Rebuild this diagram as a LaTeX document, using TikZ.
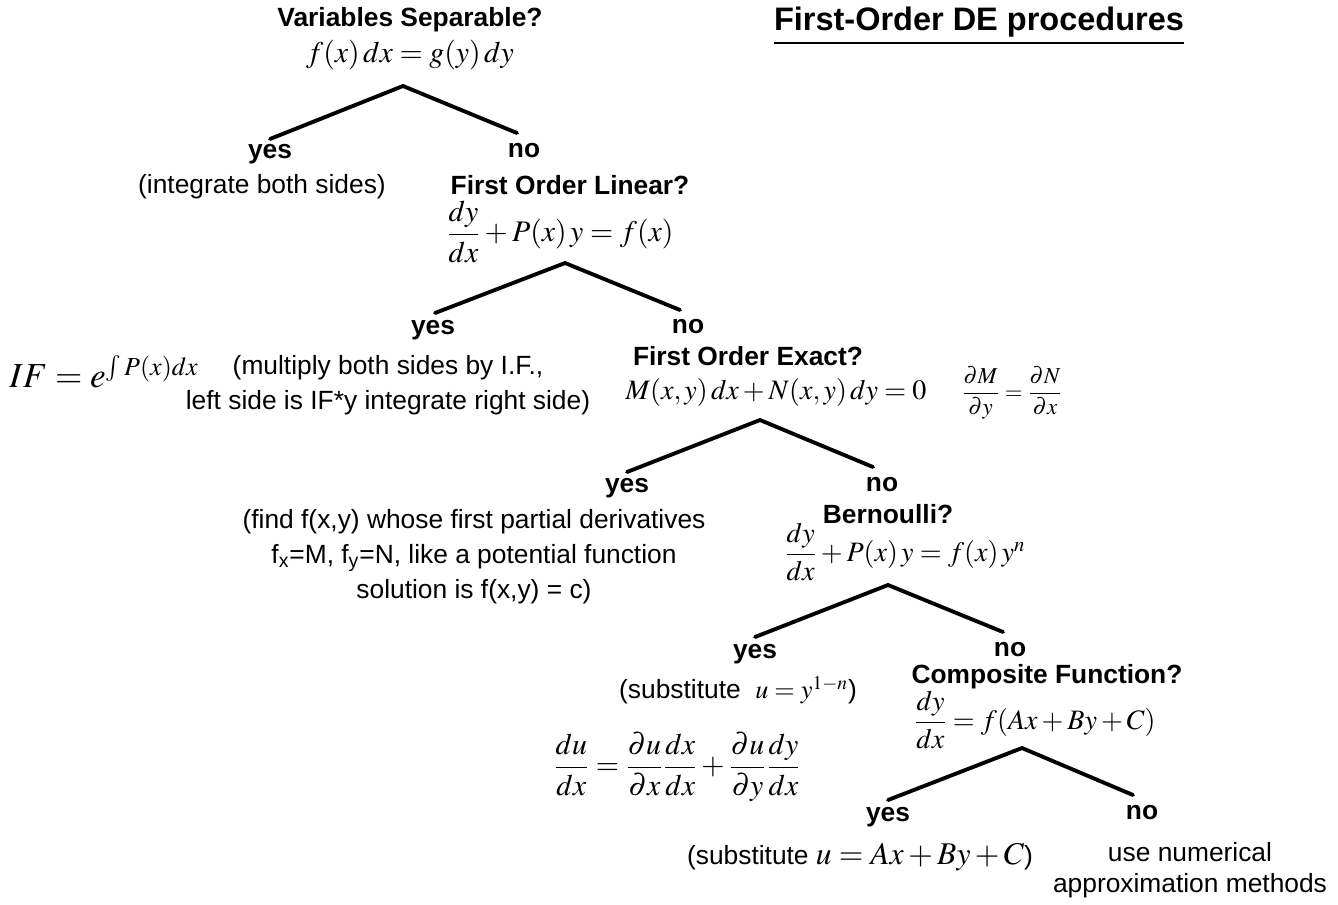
\documentclass[tikz,border=0pt]{standalone}
\usepackage{amsmath}
\usepackage{mathptmx}
\usepackage{fontspec}
\setmainfont{Liberation Sans}
\usetikzlibrary{positioning}

\begin{document}
\begin{tikzpicture}[x=0.02cm,y=-0.02cm,
  ask/.style={font=\bfseries\fontsize{15}{18}\selectfont,inner sep=0pt},
  txt/.style={font=\fontsize{15}{20}\selectfont,align=center,inner sep=0pt},
  eqn/.style={font=\fontsize{16}{19}\selectfont,inner sep=0pt},
  branch/.style={line width=2.2pt,line cap=round,line join=round}]
  \useasboundingbox (0,0) rectangle (1338,904);
  % title
  \node[ask,font=\bfseries\fontsize{18.5}{20}\selectfont] (title) at (979,22) {First-Order DE procedures};
  \draw[line width=1.4pt] ([yshift=-3pt]title.south west) -- ([yshift=-3pt]title.south east);
  % separable
  \node[ask] (sep) at (410,20) {Variables Separable?};
  \node[eqn,font=\fontsize{17}{19}\selectfont] (sepeq) at (410,55) {$f(x)\,dx=g(y)\,dy$};
  \coordinate (t1) at (403,86);
  \coordinate (t1y) at (270,139);
  \coordinate (t1n) at (517,133);
  \draw[branch] (t1y) -- (t1) -- (t1n);
  \node[ask] (y1) at (270,154) {yes};
  \node[ask] (n1) at (524,151) {no};
  \node[txt] (a1) at (262,187) {(integrate both sides)};
  % linear
  \node[ask] (lin) at (570,185) {First Order Linear?};
  \node[eqn,font=\fontsize{17}{19}\selectfont] (lineq) at (560,232) {$\dfrac{dy}{dx}+P(x)\,y=f(x)$};
  \coordinate (t2) at (565,263);
  \coordinate (t2y) at (435,313);
  \coordinate (t2n) at (680,310);
  \draw[branch] (t2y) -- (t2) -- (t2n);
  \node[ask] (y2) at (433,330) {yes};
  \node[ask] (n2) at (688,327) {no};
  \node[txt] (a2) at (388,385) {(multiply both sides by I.F.,\\left side is IF*y integrate right side)};
  \node[font=\fontsize{20}{22}\selectfont,inner sep=0pt] (ifeq) at (104,372) {$IF=e^{\int P(x)dx}$};
  % exact
  \node[ask] (exa) at (748,356) {First Order Exact?};
  \node[eqn] (exaeq) at (776,392) {$M(x,y)\,dx+N(x,y)\,dy=0$};
  \node[font=\fontsize{13}{15}\selectfont,inner sep=0pt] (exatest) at (1012,393) {$\dfrac{\partial M}{\partial y}=\dfrac{\partial N}{\partial x}$};
  \coordinate (t3) at (760,420);
  \coordinate (t3y) at (627,472);
  \coordinate (t3n) at (873,467);
  \draw[branch] (t3y) -- (t3) -- (t3n);
  \node[ask] (y3) at (627,488) {yes};
  \node[ask] (n3) at (882,485) {no};
  \node[txt] (a3) at (474,557) {(find f(x,y) whose first partial derivatives\\f\textsubscript{x}=M, f\textsubscript{y}=N, like a potential function\\solution is f(x,y) = c)};
  % bernoulli
  \node[ask] (ber) at (888,514) {Bernoulli?};
  \node[eqn] (bereq) at (905,552) {$\dfrac{dy}{dx}+P(x)\,y=f(x)\,y^{n}$};
  \coordinate (t4) at (888,585);
  \coordinate (t4y) at (755,637);
  \coordinate (t4n) at (1003,632);
  \draw[branch] (t4y) -- (t4) -- (t4n);
  \node[ask] (y4) at (755,654) {yes};
  \node[ask] (n4) at (1010,650) {no};
  \node[txt] (a4) at (738,690) {(substitute \ $u=y^{1-n}$)};
  \node[font=\fontsize{17}{20}\selectfont,inner sep=0pt] (chain) at (677,767) {$\dfrac{du}{dx}=\dfrac{\partial u}{\partial x}\dfrac{dx}{dx}+\dfrac{\partial u}{\partial y}\dfrac{dy}{dx}$};
  % composite
  \node[ask] (com) at (1047,677) {Composite Function?};
  \node[eqn] (comeq) at (1035,720) {$\dfrac{dy}{dx}=f(Ax+By+C)$};
  \coordinate (t5) at (1022,748);
  \coordinate (t5y) at (888,800);
  \coordinate (t5n) at (1133,795);
  \draw[branch] (t5y) -- (t5) -- (t5n);
  \node[ask] (y5) at (888,817) {yes};
  \node[ask] (n5) at (1142,813) {no};
  \node[txt] (a5) at (860,857) {(substitute {\fontsize{18}{20}\selectfont$u=Ax+By+C$})};
  \node[txt] (b5) at (1190,870) {use numerical\\[-2pt]approximation methods};
\end{tikzpicture}
\end{document}
